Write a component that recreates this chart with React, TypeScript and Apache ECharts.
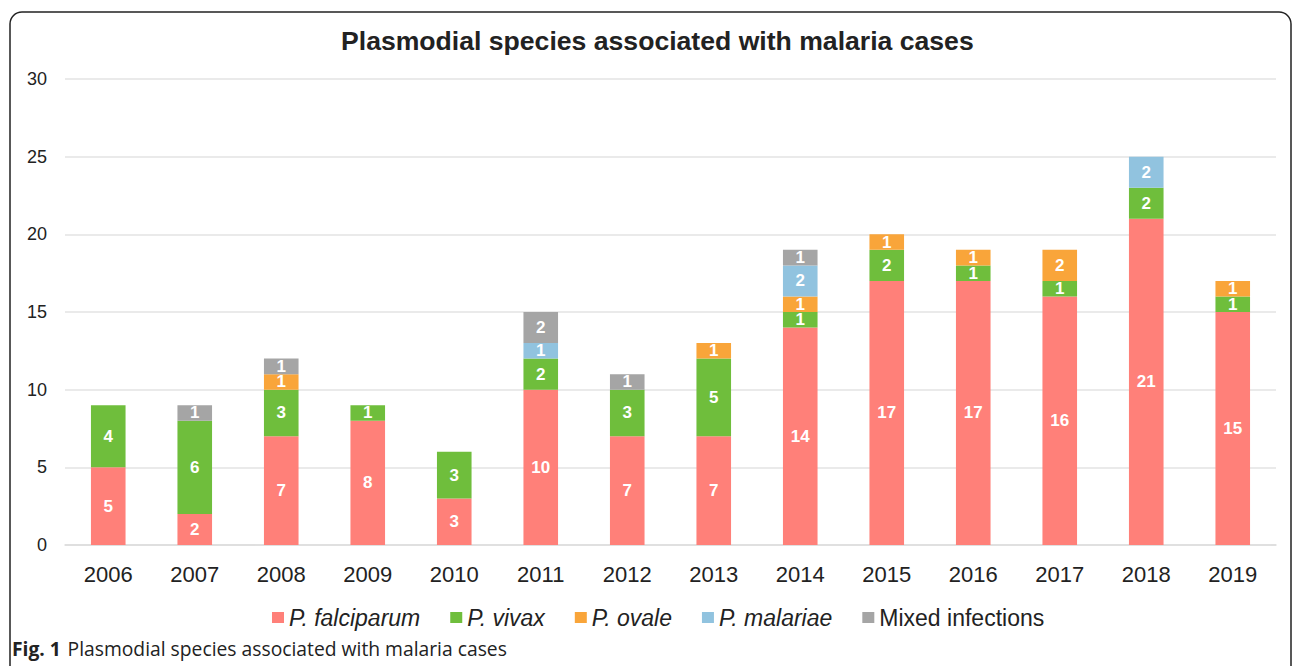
import React, { useEffect, useRef } from "react";
import * as echarts from "echarts";

const years = ["2006","2007","2008","2009","2010","2011","2012","2013","2014","2015","2016","2017","2018","2019"];
const falciparum = [5, 2, 7, 8, 3, 10, 7, 7, 14, 17, 17, 16, 21, 15];
const vivax = [4, 6, 3, 1, 3, 2, 3, 5, 1, 2, 1, 1, 2, 1];
const ovale = [0, 0, 1, 0, 0, 0, 0, 1, 1, 1, 1, 2, 0, 1];
const malariae = [0, 0, 0, 0, 0, 1, 0, 0, 2, 0, 0, 0, 2, 0];
const mixed = [0, 1, 1, 0, 0, 2, 1, 0, 1, 0, 0, 0, 0, 0];

const seriesNames = ["P. falciparum", "P. vivax", "P. ovale", "P. malariae", "Mixed infections"];
const seriesData = [falciparum, vivax, ovale, malariae, mixed];
const colors = ["#FF8079", "#6FBE3C", "#F9A53A", "#91C3DF", "#A5A5A5"];

const FONT = "'Liberation Sans', Arial, Helvetica, sans-serif";

export default function App() {
  const ref = useRef<HTMLDivElement>(null);
  useEffect(() => {
    if (!ref.current) return;
    const chart = echarts.init(ref.current, undefined, { renderer: "svg" });
    chart.setOption({
      animation: false,
      backgroundColor: "#ffffff",
      color: colors,
      title: {
        text: "Plasmodial species associated with malaria cases",
        left: 336,
        top: 22,
        textStyle: { fontFamily: FONT, fontSize: 26.6, fontWeight: "bold", color: "#222" },
      },
      grid: { left: 65, right: 17, top: 79, bottom: 121 },
      legend: {
        data: seriesNames,
        top: 601,
        left: 267,
        icon: "rect",
        itemWidth: 12,
        itemHeight: 11,
        itemGap: 30,
        formatter: (name: string) => (name === "Mixed infections" ? `{n|${name}}` : `{i|${name}}`),
        textStyle: {
          fontFamily: FONT,
          fontSize: 23,
          color: "#222",
          rich: {
            i: { fontFamily: FONT, fontSize: 23, fontStyle: "italic", color: "#222" },
            n: { fontFamily: FONT, fontSize: 23, color: "#222" },
          },
        },
      },
      xAxis: {
        type: "category",
        data: years,
        axisLine: { show: true, lineStyle: { color: "#dcdcdc", width: 1.5 } },
        axisTick: { show: false },
        axisLabel: { margin: 18, fontFamily: FONT, fontSize: 22, color: "#222" },
      },
      yAxis: {
        type: "value",
        min: 0,
        max: 30,
        interval: 5,
        axisLine: { show: false },
        axisTick: { show: false },
        axisLabel: { margin: 18, fontFamily: FONT, fontSize: 18, color: "#222" },
        splitLine: { lineStyle: { color: "#e3e3e3", width: 1.5 } },
      },
      series: seriesNames.map((name, i) => ({
        name,
        type: "bar",
        stack: "total",
        barWidth: "40%",
        data: seriesData[i].map((v) => (v === 0 ? null : v)),
        itemStyle: { color: colors[i] },
        label: {
          show: true,
          position: "inside",
          color: "#fff",
          fontFamily: FONT,
          fontWeight: "bold",
          fontSize: 17,
          lineHeight: 14,
        },
      })),
      graphic: [
        {
          type: "rect",
          shape: { x: 10, y: 12, width: 1281, height: 700, r: 12 },
          style: { fill: "none", stroke: "#222", lineWidth: 1.5 },
          silent: true,
          z: 100,
        },
        {
          type: "text",
          x: 12,
          y: 648,
          style: {
            text: "{b|Fig. 1}  {r|Plasmodial species associated with malaria cases}",
            verticalAlign: "middle",
            rich: {
              b: { fontFamily: "'Open Sans', sans-serif", fontWeight: "bold", fontSize: 19.3, fill: "#222" },
              r: { fontFamily: "'Open Sans', sans-serif", fontSize: 19.3, fill: "#222" },
            },
          },
        },
      ],
    });
    return () => chart.dispose();
  }, []);
  return (
    <div style={{ position: "fixed", left: 0, top: 0, width: 1293, height: 666, background: "#fff" }}>
      <div ref={ref} style={{ width: 1293, height: 666 }} />
    </div>
  );
}
